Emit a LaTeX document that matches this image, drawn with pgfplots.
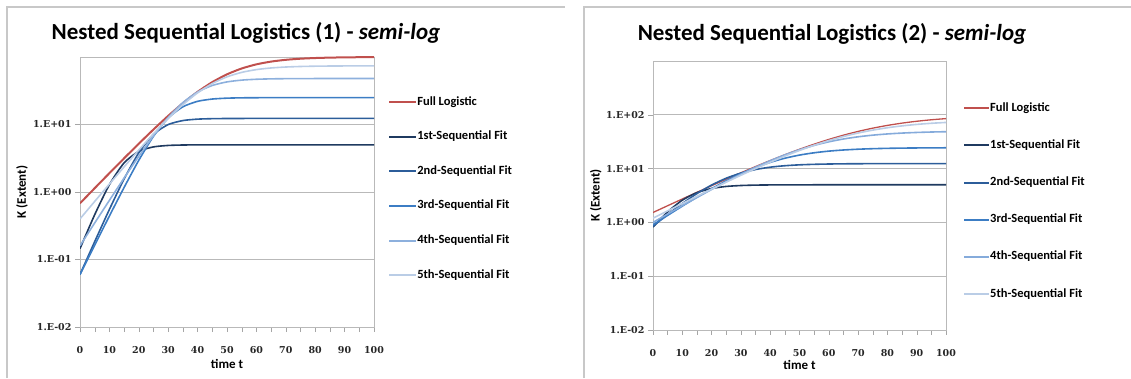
\documentclass[border=0pt]{standalone}
\usepackage{fontspec}
\setmainfont{Carlito}
\newfontfamily\tickfont{DejaVu Serif}
\usepackage{pgfplots}
\pgfplotsset{compat=1.18}
\definecolor{cFull}{HTML}{C0504D}
\definecolor{cA}{HTML}{1F3A60}
\definecolor{cB}{HTML}{2C5D9A}
\definecolor{cC}{HTML}{3C7DC4}
\definecolor{cD}{HTML}{8DB0DD}
\definecolor{cE}{HTML}{BACDE6}
\definecolor{frm}{HTML}{C8C8C8}
\newcommand\labfont{\bfseries\fontsize{13}{15}\selectfont}
\pgfplotsset{
  nslstyle/.style={
    scale only axis,
    xmin=0, xmax=100,
    xtick={0,10,...,100},
    xticklabels={0,10,20,30,40,50,60,70,80,90,100},
    minor xtick={5,15,...,95},
    xtick pos=bottom, ytick pos=left,
    tick align=outside,
    major tick length=5pt, minor tick length=5pt,
    yminorticks=false,
    every tick/.style={draw=gray!70, thin},
    minor tick style={draw=gray!70, thin},
    axis line style={draw=gray!55, line width=0.8pt},
    ymajorgrids,
    grid style={draw=gray!55, line width=0.8pt},
    tick label style={font=\tickfont\bfseries\fontsize{9.5}{11}\selectfont, text=black!85},
    xticklabel style={yshift=-11pt},
    xlabel={time t},
    ylabel={K (Extent)},
    every axis x label/.style={at={(axis description cs:0.5,-0.137)}, anchor=center, font=\labfont},
    legend cell align=left,
    legend style={draw=none, fill=none, inner sep=0pt, anchor=north west,
      font=\bfseries\fontsize{12.5}{14}\selectfont,
      nodes={inner sep=0pt, text height=8pt, text depth=2pt},
      /tikz/every even column/.append style={column sep=2pt}},
    every axis plot/.append style={line width=1.6pt, smooth, tension=0.4, no markers},
  }
}
\begin{document}
\begin{tikzpicture}[x=1pt,y=1pt]
\useasboundingbox (0,0) rectangle (1131,378);
% chart frames
\draw[frm, line width=1.4pt] (7,0) -- (7,371) -- (565,371);
\draw[frm, line width=1.4pt] (584,0) -- (584,371) -- (1131,371);
% titles
\node[font=\bfseries\fontsize{23}{27}\selectfont] at (246,345) {Nested Sequential Logistics (1) - \textit{semi-log}};
\node[font=\bfseries\fontsize{23}{27}\selectfont] at (832,344) {Nested Sequential Logistics (2) - \textit{semi-log}};

\begin{semilogyaxis}[nslstyle,
  at={(80pt,51pt)}, anchor=south west,
  width=294pt, height=270pt,
  ymin=0.01, ymax=100,
  ytick={0.01,0.1,1,10},
  yticklabels={1.E-02,1.E-01,1.E+00,1.E+01},
  every axis y label/.style={at={(axis description cs:-0.197,0.5)}, rotate=90, anchor=center, font=\labfont},
  legend image code/.code={\draw[#1, line width=2pt] (0pt,0pt) -- (27pt,0pt);},
  legend style={at={(axis description cs:1.048,0.852)}, row sep=24.6pt},
]
\addplot[cFull, line width=2pt] coordinates {(0,0.680)(5,1.139)(10,1.901)(15,3.156)(20,5.198)(25,8.44)(30,13.43)(35,20.69)(40,30.50)(45,42.46)(50,55.39)(55,67.62)(60,77.84)(65,85.53)(70,90.86)(75,94.36)(80,96.56)(85,97.93)(90,98.76)(95,99.26)(100,99.56)};
\addlegendentry{Full Logistic}
\addplot[cA] coordinates {(0,0.145)(5,0.461)(10,1.285)(15,2.704)(20,4.002)(25,4.659)(30,4.895)(35,4.969)(40,4.991)(45,4.997)(50,5.0)(55,5.0)(60,5.0)(65,5.0)(70,5.0)(75,5.0)(80,5.0)(85,5.0)(90,5.0)(95,5.0)(100,5.0)};
\addlegendentry{1st-Sequential Fit}
\addplot[cB] coordinates {(0,0.060)(5,0.184)(10,0.552)(15,1.561)(20,3.818)(25,7.161)(30,9.985)(35,11.44)(40,12.01)(45,12.20)(50,12.27)(55,12.29)(60,12.30)(65,12.3)(70,12.3)(75,12.3)(80,12.3)(85,12.3)(90,12.3)(95,12.3)(100,12.3)};
\addlegendentry{2nd-Sequential Fit}
\addplot[cC] coordinates {(0,0.060)(5,0.163)(10,0.441)(15,1.168)(20,2.952)(25,6.695)(30,12.50)(35,18.30)(40,22.05)(45,23.83)(50,24.56)(55,24.84)(60,24.94)(65,24.98)(70,25.0)(75,25.0)(80,25.0)(85,25.0)(90,25.0)(95,25.0)(100,25.0)};
\addlegendentry{3rd-Sequential Fit}
\addplot[cD] coordinates {(0,0.160)(5,0.348)(10,0.752)(15,1.611)(20,3.380)(25,6.807)(30,12.72)(35,21.13)(40,30.32)(45,37.88)(50,42.76)(55,45.45)(60,46.79)(65,47.44)(70,47.74)(75,47.88)(80,47.95)(85,47.98)(90,47.99)(95,48.0)(100,48.0)};
\addlegendentry{4th-Sequential Fit}
\addplot[cE] coordinates {(0,0.400)(5,0.725)(10,1.312)(15,2.355)(20,4.183)(25,7.283)(30,12.28)(35,19.68)(40,29.43)(45,40.41)(50,50.82)(55,59.19)(60,65.06)(65,68.81)(70,71.06)(75,72.36)(80,73.09)(85,73.50)(90,73.72)(95,73.85)(100,73.92)};
\addlegendentry{5th-Sequential Fit}
\end{semilogyaxis}

\begin{semilogyaxis}[nslstyle,
  at={(653pt,48pt)}, anchor=south west,
  width=293pt, height=269pt,
  ymin=0.01, ymax=1000,
  ytick={0.01,0.1,1,10,100},
  yticklabels={1.E-02,1.E-01,1.E+00,1.E+01,1.E+02},
  every axis y label/.style={at={(axis description cs:-0.195,0.5)}, rotate=90, anchor=center, font=\labfont},
  every axis x label/.style={at={(axis description cs:0.5,-0.130)}, anchor=center, font=\labfont},
  legend image code/.code={\draw[#1, line width=2pt] (0pt,0pt) -- (25pt,0pt);},
  legend style={at={(axis description cs:1.058,0.844)}, row sep=27.2pt},
]
\addplot[cFull, line width=1.3pt] coordinates {(0,1.529)(5,2.043)(10,2.725)(15,3.626)(20,4.810)(25,6.356)(30,8.354)(35,10.91)(40,14.13)(45,18.09)(50,22.88)(55,28.49)(60,34.87)(65,41.82)(70,49.12)(75,56.46)(80,63.52)(85,70.05)(90,75.85)(95,80.84)(100,85.00)};
\addlegendentry{Full Logistic}
\addplot[cA] coordinates {(0,0.820)(5,1.572)(10,2.588)(15,3.576)(20,4.273)(25,4.661)(30,4.849)(35,4.934)(40,4.972)(45,4.988)(50,4.995)(55,5.0)(60,5.0)(65,5.0)(70,5.0)(75,5.0)(80,5.0)(85,5.0)(90,5.0)(95,5.0)(100,5.0)};
\addlegendentry{1st-Sequential Fit}
\addplot[cB] coordinates {(0,0.849)(5,1.402)(10,2.244)(15,3.433)(20,4.946)(25,6.633)(30,8.258)(35,9.617)(40,10.63)(45,11.31)(50,11.75)(55,12.01)(60,12.17)(65,12.27)(70,12.32)(75,12.36)(80,12.38)(85,12.39)(90,12.39)(95,12.40)(100,12.40)};
\addlegendentry{2nd-Sequential Fit}
\addplot[cC] coordinates {(0,0.901)(5,1.351)(10,2.008)(15,2.944)(20,4.234)(25,5.934)(30,8.043)(35,10.48)(40,13.07)(45,15.59)(50,17.84)(55,19.69)(60,21.13)(65,22.18)(70,22.93)(75,23.45)(80,23.80)(85,24.04)(90,24.20)(95,24.30)(100,24.37)};
\addlegendentry{3rd-Sequential Fit}
\addplot[cD!90!cC] coordinates {(0,1.000)(5,1.433)(10,2.045)(15,2.903)(20,4.091)(25,5.706)(30,7.849)(35,10.61)(40,14.00)(45,18.00)(50,22.42)(55,27.01)(60,31.47)(65,35.53)(70,39.01)(75,41.85)(80,44.06)(85,45.74)(90,46.97)(95,47.87)(100,48.50)};
\addlegendentry{4th-Sequential Fit}
\addplot[cE] coordinates {(0,1.199)(5,1.642)(10,2.245)(15,3.059)(20,4.152)(25,5.610)(30,7.524)(35,10.01)(40,13.16)(45,17.07)(50,21.75)(55,27.17)(60,33.17)(65,39.50)(70,45.86)(75,51.92)(80,57.45)(85,62.25)(90,66.28)(95,69.55)(100,72.12)};
\addlegendentry{5th-Sequential Fit}
\end{semilogyaxis}
\end{tikzpicture}
\end{document}
